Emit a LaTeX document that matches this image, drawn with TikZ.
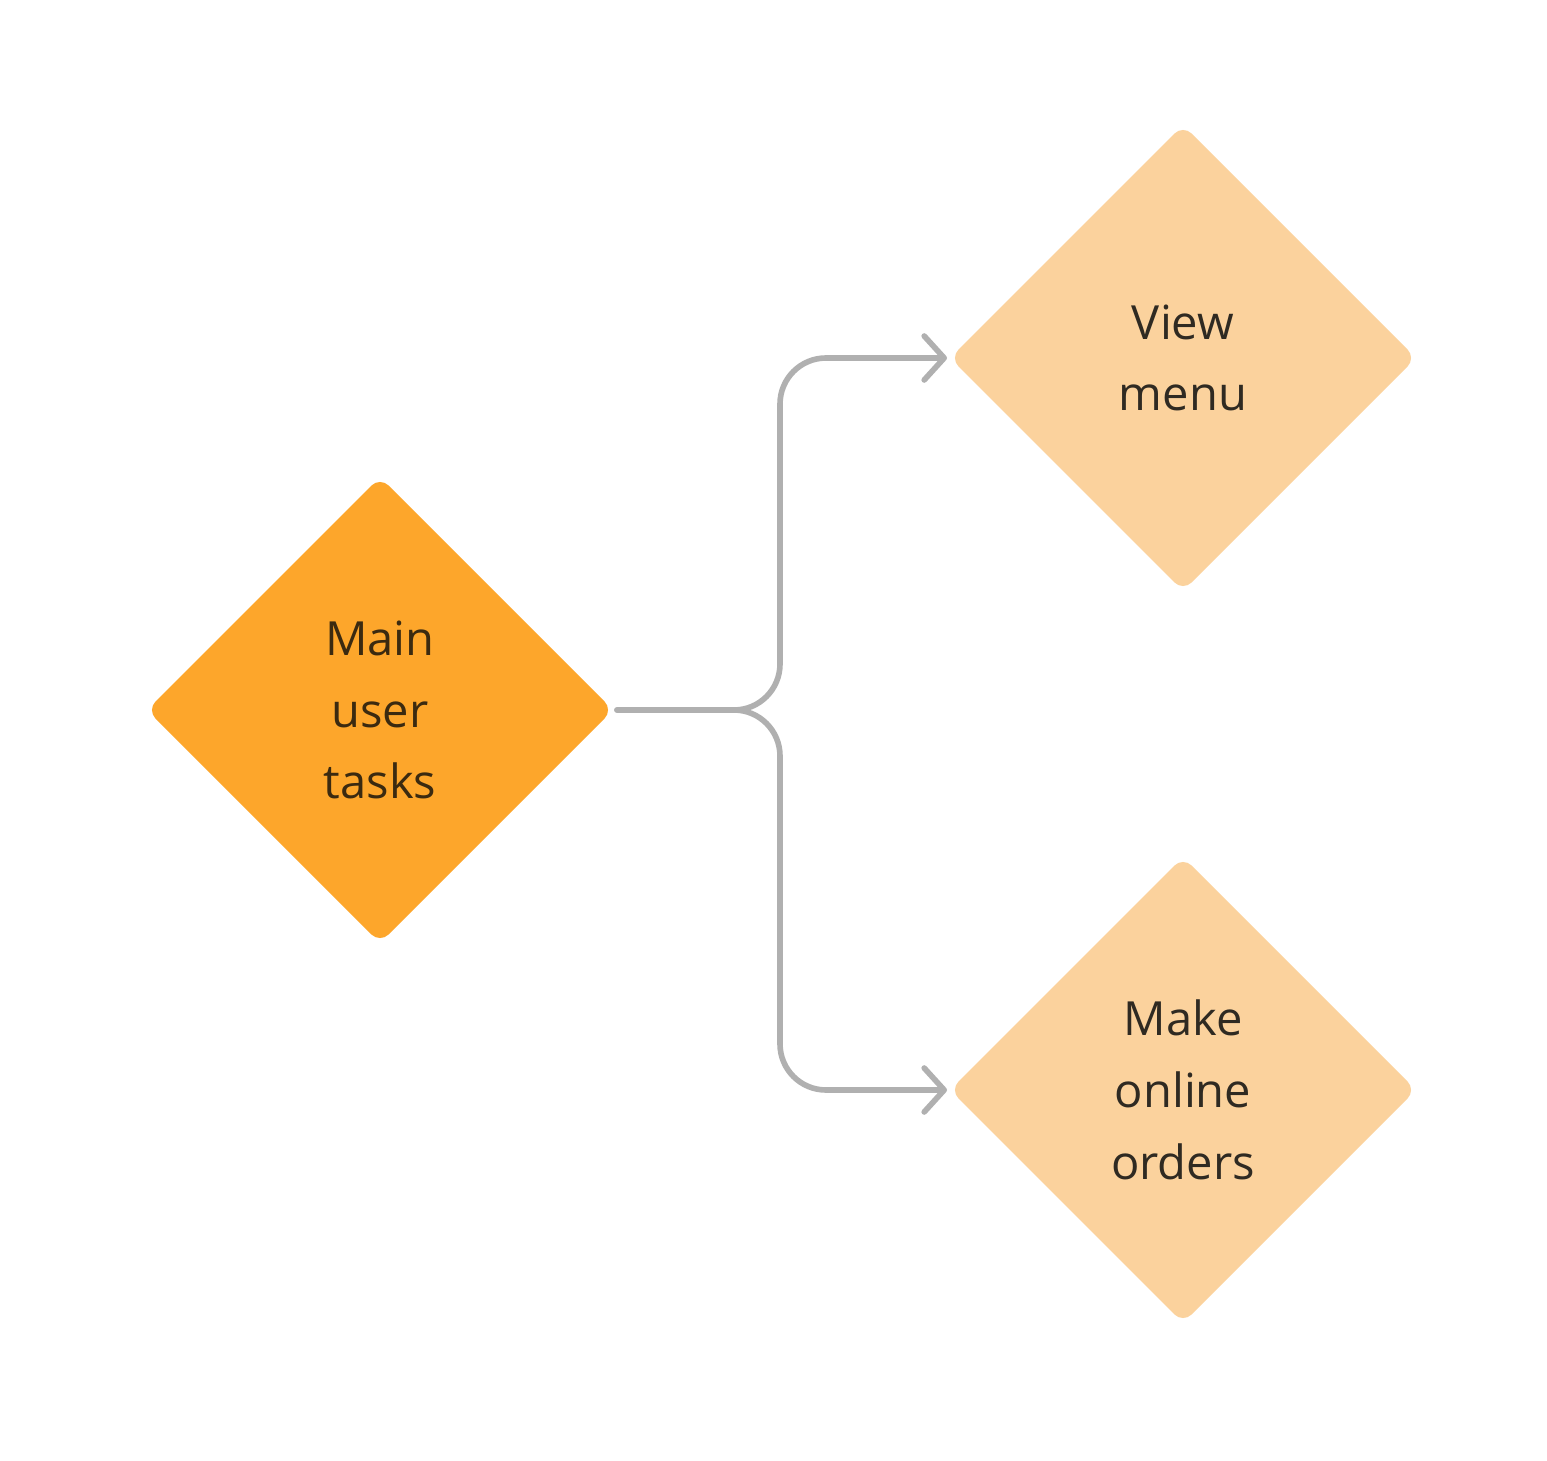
\documentclass[tikz,border=0pt]{standalone}
\usepackage{fontspec}
\setmainfont{Open Sans}
\usetikzlibrary{shapes.geometric,arrows.meta}

\definecolor{taskmain}{HTML}{FDA62B}
\definecolor{tasksub}{HTML}{FBD29D}
\definecolor{inkmain}{HTML}{3B2A10}
\definecolor{inksub}{HTML}{2F2A22}
\definecolor{linkgray}{HTML}{B0B0B0}

\begin{document}
\begin{tikzpicture}
   \useasboundingbox[fill=white] (0,0) rectangle (15.47,-14.61);
   \begin{scope}[every node/.style={diamond,aspect=1,minimum size=4.66cm,inner sep=0pt,outer sep=0pt,
        rounded corners=0.12cm,align=center,font=\fontsize{13.4pt}{20.4pt}\selectfont}]
    \node[fill=taskmain,text=inkmain] (t1) at (3.8,-7.1) {Main\\user\\tasks};
    \node[fill=tasksub,text=inksub] (t2) at (11.83,-3.58) {View\\menu};
    \node[fill=tasksub,text=inksub] (t3) at (11.83,-10.9) {Make\\online\\orders};
   \end{scope}
   \coordinate (fork) at (7.8,-7.1);
   \begin{scope}[every path/.style={draw=linkgray,line width=1.6pt,line cap=round,rounded corners=0.46cm,
        shorten <=0.04cm,shorten >=0.03cm}]
    \draw[-{Straight Barb[length=0.2cm,width=0.44cm,round]}] (t1.east) -- (fork) |- (t2.west);
    \draw[-{Straight Barb[length=0.2cm,width=0.44cm,round]}] (t1.east) -- (fork) |- (t3.west);
   \end{scope}
\end{tikzpicture}
\end{document}
